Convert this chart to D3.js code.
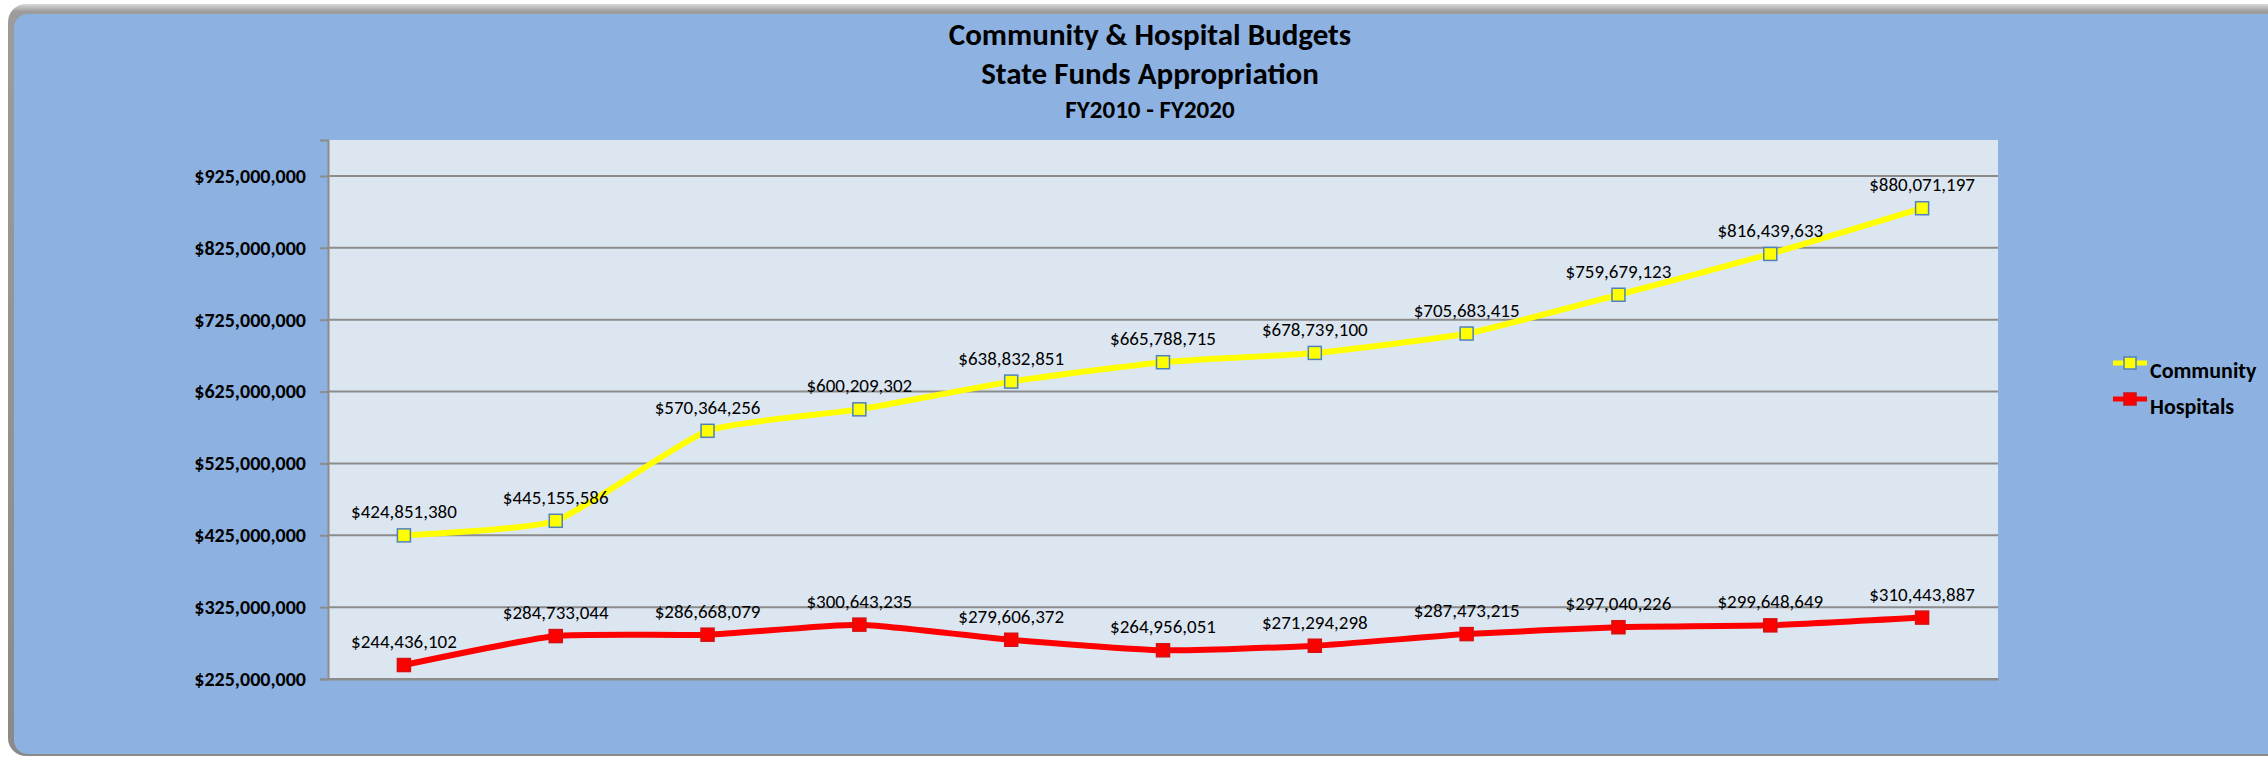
<!DOCTYPE html>
<html>
<head>
<meta charset="utf-8">
<script src="https://cdn.jsdelivr.net/npm/d3@7"></script>
<style>
	body{ margin:0; background:#ffffff; }
	text{ font-family: Calibri, Carlito, Lato, sans-serif; fill:#000000; }
</style>
</head>
<body>
<div id="chart"></div>
<script>
// chart data
var years = ["FY2010","FY2011","FY2012","FY2013","FY2014","FY2015","FY2016","FY2017","FY2018","FY2019","FY2020"];
var community = [424851380, 445155586, 570364256, 600209302, 638832851, 665788715, 678739100, 705683415, 759679123, 816439633, 880071197];
var hospitals = [244436102, 284733044, 286668079, 300643235, 279606372, 264956051, 271294298, 287473215, 297040226, 299648649, 310443887];
var yTicks = [225000000, 325000000, 425000000, 525000000, 625000000, 725000000, 825000000, 925000000];
var titleLines = ["Community & Hospital Budgets", "State Funds Appropriation", "FY2010 - FY2020"];

var W = 2268, H = 757;
var plot = {left: 328, top: 140, right: 1998, bottom: 679};
var fmt = d3.format("$,");

var svg = d3.select("#chart")
	.append("svg")
	.attr("width", W)
	.attr("height", H);

var defs = svg.append("defs");
var bevel = defs.append("linearGradient")
	.attr("id", "bevel")
	.attr("x1", 0).attr("y1", 0).attr("x2", 0).attr("y2", 1);
bevel.append("stop").attr("offset", "0%").attr("stop-color", "#d9d9d9");
bevel.append("stop").attr("offset", "1%").attr("stop-color", "#9c9c9c");
bevel.append("stop").attr("offset", "100%").attr("stop-color", "#8a8a8a");

// outer frame
svg.append("rect")
	.attr("x", 8).attr("y", 4)
	.attr("width", 2280).attr("height", 752)
	.attr("rx", 18)
	.style("fill", "url(#bevel)");
svg.append("rect")
	.attr("x", 14).attr("y", 14)
	.attr("width", 2270).attr("height", 740)
	.attr("rx", 14)
	.style("fill", "#8db2e2");

// plot area
svg.append("rect")
	.attr("x", plot.left).attr("y", plot.top)
	.attr("width", plot.right - plot.left)
	.attr("height", plot.bottom - plot.top)
	.style("fill", "#dce6f1");

var x = d3.scalePoint()
	.domain(years)
	.range([plot.left, plot.right])
	.padding(0.5);

var y = d3.scaleLinear()
	.domain([225000000, 975000000])
	.range([plot.bottom, plot.top]);

// gridlines
svg.append("g")
	.selectAll("line")
	.data(yTicks)
	.enter()
	.append("line")
	.attr("x1", plot.left)
	.attr("x2", plot.right)
	.attr("y1", function(d){ return y(d); })
	.attr("y2", function(d){ return y(d); })
	.style("stroke", "#8c8c8c")
	.style("stroke-width", 2);

// Y axis
var yAxis = svg.append("g")
	.attr("transform", "translate(" + plot.left + ",0)")
	.call(d3.axisLeft(y).tickValues(yTicks).tickFormat(fmt).tickSize(8).tickPadding(14));
yAxis.select(".domain").style("stroke", "#8c8c8c").style("stroke-width", 2);
yAxis.selectAll(".tick line").style("stroke", "#8c8c8c").style("stroke-width", 2);
yAxis.selectAll(".tick text")
	.style("font-family", "Calibri, Carlito, Lato, sans-serif")
	.style("font-size", "20px")
	.style("font-weight", "bold")
	.style("fill", "#000");

// X axis (no labels)
var xAxis = svg.append("g")
	.attr("transform", "translate(0," + plot.bottom + ")")
	.call(d3.axisBottom(x).tickSize(0).tickFormat(""));
xAxis.select(".domain").style("stroke", "#8c8c8c").style("stroke-width", 2);

// title
svg.append("g")
	.selectAll("text")
	.data(titleLines)
	.enter()
	.append("text")
	.attr("x", 1150)
	.attr("y", function(d, i){ return [45, 84, 118][i]; })
	.attr("text-anchor", "middle")
	.style("font-weight", "bold")
	.style("font-size", function(d, i){ return i < 2 ? "31px" : "25px"; })
	.text(function(d){ return d; });

var line = d3.line()
	.x(function(d, i){ return x(years[i]); })
	.y(function(d){ return y(d); })
	.curve(d3.curveCardinal.tension(0.5));

var series = [
	{name: "Community", values: community, color: "#ffff00", edge: "#4f81bd"},
	{name: "Hospitals", values: hospitals, color: "#ff0000", edge: "#d41111"}
];

series.forEach(function(s){
	svg.append("path")
		.datum(s.values)
		.attr("d", line)
		.style("fill", "none")
		.style("stroke", s.color)
		.style("stroke-width", 6);

	// markers
	svg.append("g")
		.selectAll("rect")
		.data(s.values)
		.enter()
		.append("rect")
		.attr("x", function(d, i){ return x(years[i]) - 6.5; })
		.attr("y", function(d){ return y(d) - 6.5; })
		.attr("width", 13)
		.attr("height", 13)
		.style("fill", s.color)
		.style("stroke", s.edge)
		.style("stroke-width", 1.5);

	// data labels
	svg.append("g")
		.selectAll("text")
		.data(s.values)
		.enter()
		.append("text")
		.attr("x", function(d, i){ return x(years[i]); })
		.attr("y", function(d){ return y(d) - 17; })
		.attr("text-anchor", "middle")
		.style("font-size", "19px")
		.text(function(d){ return fmt(d); });
});

// legend
var legend = svg.append("g")
	.selectAll("g")
	.data(series)
	.enter()
	.append("g")
	.attr("transform", function(d, i){ return "translate(2130," + (363 + i * 36) + ")"; });
legend.append("line")
	.attr("x1", -17).attr("x2", 17)
	.style("stroke", function(d){ return d.color; })
	.style("stroke-width", 5);
legend.append("rect")
	.attr("x", -6).attr("y", -6)
	.attr("width", 12).attr("height", 12)
	.style("fill", function(d){ return d.color; })
	.style("stroke", function(d){ return d.edge; })
	.style("stroke-width", 1.5);
legend.append("text")
	.attr("x", 20)
	.attr("y", 15)
	.style("font-size", "22px")
	.style("font-weight", "bold")
	.text(function(d){ return d.name; });
</script>
</body>
</html>
